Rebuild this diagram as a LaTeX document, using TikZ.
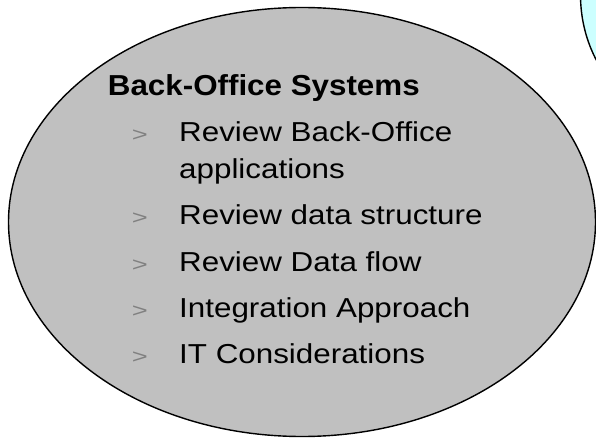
\documentclass[tikz,border=0pt]{standalone}
\usepackage{fontspec}
\setmainfont{Liberation Sans}
\newfontfamily\headfont[FakeStretch=1.085]{Liberation Sans}
\newfontfamily\itemfont[FakeStretch=1.145]{Liberation Sans}
\newfontfamily\markfont[FakeStretch=1.37]{Liberation Sans}
\definecolor{ovalgray}{RGB}{192,192,192}
\definecolor{palecyan}{RGB}{204,255,255}
\definecolor{markgray}{RGB}{128,128,128}
\tikzset{
  oval/.style={draw=black, line width=1.4bp},
  heading/.style={anchor=base west, inner sep=0pt, font=\headfont\bfseries\fontsize{29}{34}\selectfont},
  itemtext/.style={anchor=base west, inner sep=0pt, font=\itemfont\fontsize{27.5}{33}\selectfont},
  itemmark/.style={anchor=base west, inner sep=0pt, text=markgray, font=\markfont\fontsize{20}{24}\selectfont},
}
\begin{document}
\begin{tikzpicture}[x=1bp, y=-1bp]
  \useasboundingbox (0,0) rectangle (596,438);
  % neighbouring oval, mostly outside the frame
  \begin{scope}
    \clip (0,0) rectangle (596,438);
    \draw[oval, fill=palecyan] (698.5,-5) ellipse [x radius=118, y radius=130];
  \end{scope}
  % main oval
  \draw[oval, fill=ovalgray] (302,222) ellipse [x radius=293.5, y radius=214.5];
  % title and list
  \node[heading] (title) at (107.7,96) {Back-Office Systems};
  \node[itemmark] (m1) at (131.7,141.7) {>};
  \node[itemtext] (t1) at (179,141.7) {Review Back-Office};
  \node[itemtext] (t1b) at (179,178.2) {applications};
  \node[itemmark] (m2) at (131.7,225) {>};
  \node[itemtext] (t2) at (179,225) {Review data structure};
  \node[itemmark] (m3) at (131.7,271.7) {>};
  \node[itemtext] (t3) at (179,271.7) {Review Data flow};
  \node[itemmark] (m4) at (131.7,317.7) {>};
  \node[itemtext] (t4) at (179,317.7) {Integration Approach};
  \node[itemmark] (m5) at (131.7,363.3) {>};
  \node[itemtext] (t5) at (179,363.3) {IT Considerations};
\end{tikzpicture}
\end{document}
